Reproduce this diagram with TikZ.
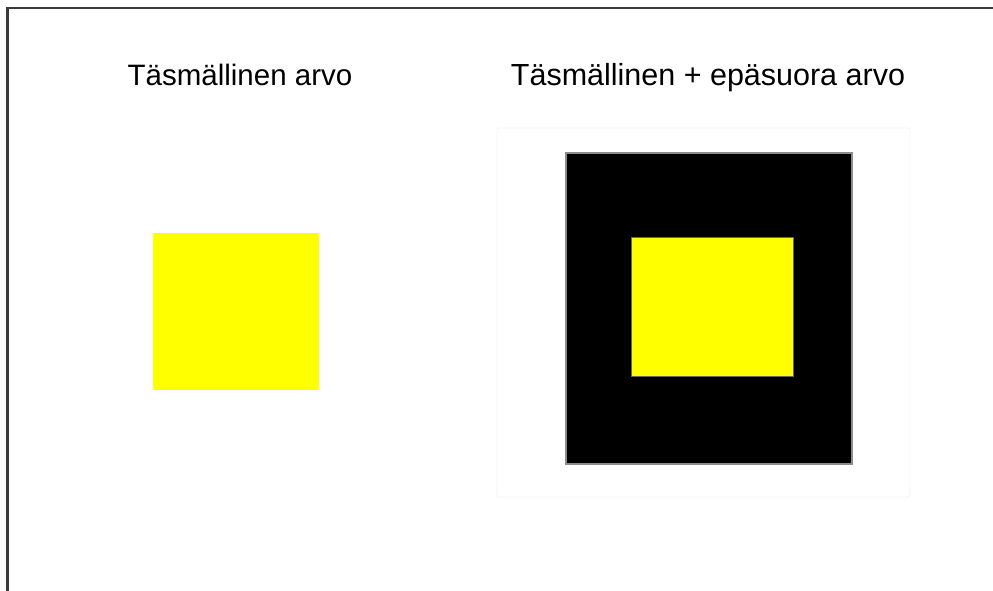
\documentclass[tikz,border=0pt]{standalone}
\usepackage{fontspec}
\setmainfont{Liberation Sans}
\definecolor{frame}{HTML}{3A3A3A}
\definecolor{yel}{HTML}{FFFF00}
\definecolor{faint}{HTML}{F4F4F4}
\begin{document}
\begin{tikzpicture}[x=1pt,y=-1pt,
  title/.style={inner sep=0pt,anchor=base,font=\fontsize{29.5}{32}\selectfont},
  box/.style={inner sep=0pt,outer sep=0pt}]
\useasboundingbox (0,0) rectangle (993,591);
\fill[white] (0,0) rectangle (993,591);
\draw[frame,line width=2.5pt] (7.5,591) -- (7.5,8) -- (993,8);
\node[title] (t1) at (240,86) {Täsmällinen arvo};
\node[title,font=\fontsize{30.5}{33}\selectfont] (t2) at (708,86) {Täsmällinen + epäsuora arvo};
\draw[faint,rounded corners=2pt,line width=0.8pt] (497,128) rectangle (910,497);
\node[box,fill=yel,minimum width=166pt,minimum height=157pt] (y1) at (236,311.5) {};
\node[box,fill=black,draw=black!45,line width=2pt,minimum width=286pt,minimum height=311pt] (b) at (709,308.5) {};
\node[box,fill=yel,draw=black!60,line width=0.4pt,minimum width=162pt,minimum height=139pt] (y2) at (712,306.5) {};
\end{tikzpicture}
\end{document}
